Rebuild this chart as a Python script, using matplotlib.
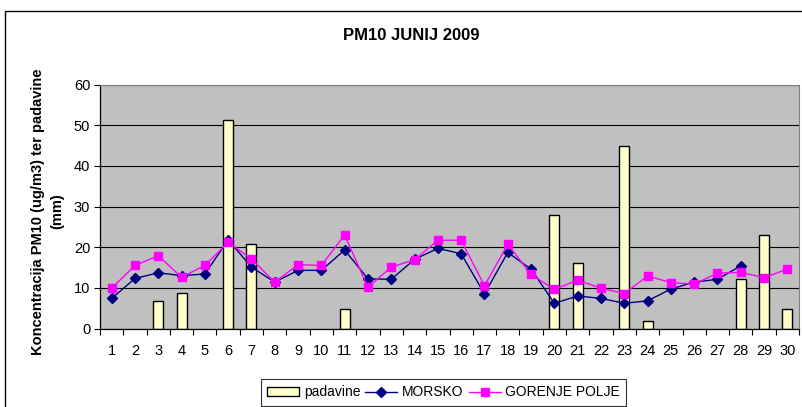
import numpy as np
import matplotlib
matplotlib.use("Agg")
import matplotlib.pyplot as plt
from matplotlib.patches import Rectangle, Patch
from matplotlib.lines import Line2D

plt.rcParams['font.family'] = ['Liberation Sans', 'DejaVu Sans']

days = list(range(1, 31))

padavine = [0, 0, 6.8, 8.8, 0, 51.2, 20.9, 0, 0, 0,
            4.9, 0, 0, 0, 0, 0, 0, 0, 0, 27.8,
            16.0, 0, 44.9, 1.9, 0, 0, 0, 12.1, 23.0, 4.9]

morsko = [7.4, 12.3, 13.7, 13.0, 13.4, 21.8, 15.1, 11.4, 14.3, 14.3,
          19.3, 12.2, 12.1, 17.0, 19.7, 18.4, 8.5, 18.7, 14.6, 6.2,
          8.0, 7.4, 6.2, 6.8, 9.7, 11.4, 12.1, 15.4, np.nan, np.nan]

gorenje = [9.9, 15.5, 17.9, 12.6, 15.5, 21.2, 17.1, 11.4, 15.7, 15.5,
           23.0, 10.1, 15.1, 16.9, 21.7, 21.7, 10.5, 20.7, 13.3, 9.6,
           11.9, 9.9, 8.6, 12.9, 11.3, 10.9, 13.6, 13.8, 12.5, 14.6]

W, H = 803, 407
fig = plt.figure(figsize=(W / 100, H / 100), dpi=100)

# outer chart frame (cut off at right and bottom like the reference)
fig.patches.append(Rectangle((5 / W, -0.05), 1.1, (H - 11) / H + 0.05,
                             transform=fig.transFigure, fill=False,
                             edgecolor='black', linewidth=1.0))

ax = fig.add_axes([100 / W, (H - 328.5) / H, 699 / W, 244 / H])
ax.set_facecolor('#C0C0C0')

x = np.array(days)
ax.bar(x, [v if v > 0 else np.nan for v in padavine], width=0.43,
       color='#FFFFCC', edgecolor='black', linewidth=1.0, zorder=2)
ax.plot(x, morsko, color='#000080', marker='D', markersize=5.5,
        linewidth=1.0, zorder=3)
ax.plot(x, gorenje, color='#FF00FF', marker='s', markersize=6,
        linewidth=1.0, zorder=3)

ax.set_xlim(0.5, 30.5)
ax.set_ylim(0, 60)
ax.set_yticks(range(0, 61, 10))
ax.yaxis.grid(True, color='black', linewidth=0.8)
ax.set_axisbelow(True)

ax.set_xticks(days)
ax.set_xticklabels([str(d) for d in days])
ax.set_xticks(np.arange(0.5, 31, 1), minor=True)
ax.tick_params(axis='x', which='major', length=0, pad=11, labelsize=10.5)
ax.tick_params(axis='x', which='minor', length=4, width=0.8, direction='out')
ax.tick_params(axis='y', length=4, width=0.8, labelsize=10.5, pad=3)

for side in ['top', 'right']:
    ax.spines[side].set_color('#808080')
for side in ['left', 'bottom']:
    ax.spines[side].set_color('black')
    ax.spines[side].set_linewidth(0.9)

ax.set_ylabel('Koncentracija PM10 (ug/m3) ter padavine\n(mm)',
              fontsize=10.5, fontweight='bold', linespacing=1.45)
ax.yaxis.set_label_coords(-0.051, 0.48)

fig.text(411 / W, 1 - 35 / H, 'PM10 JUNIJ 2009', ha='center', va='center',
         fontsize=12, fontweight='bold')

handles = [Patch(facecolor='#FFFFCC', edgecolor='black', linewidth=1.0),
           Line2D([], [], color='#000080', marker='D', markersize=5, linewidth=1.0),
           Line2D([], [], color='#FF00FF', marker='s', markersize=5.5, linewidth=1.0)]
labels = ['padavine', 'MORSKO', 'GORENJE POLJE']
leg = fig.legend(handles, labels, loc='upper left',
                 bbox_to_anchor=(261 / W, 1 - 379 / H), ncol=3,
                 frameon=True, fancybox=False, fontsize=10,
                 handlelength=2.3, handleheight=0.6, handletextpad=0.35,
                 columnspacing=0.35, borderpad=0.45, borderaxespad=0)
leg.get_frame().set_edgecolor('black')
leg.get_frame().set_linewidth(0.8)

fig.savefig('out.png', dpi=100)
